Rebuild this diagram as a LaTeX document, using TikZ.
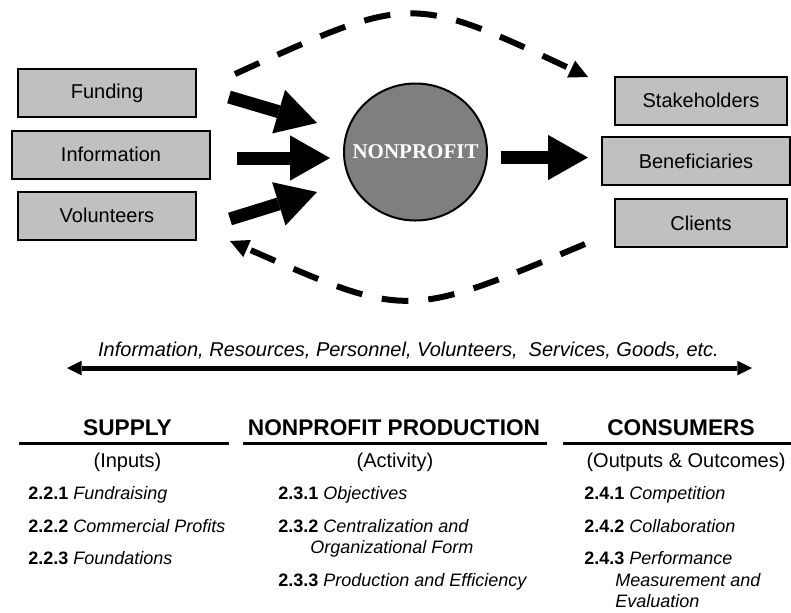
\documentclass[tikz,border=0pt]{standalone}
\usepackage{fontspec}
\setmainfont{Liberation Sans}
\newfontfamily\discfont{Liberation Serif}
\usetikzlibrary{arrows.meta,shapes.geometric}

\definecolor{boxgray}{HTML}{C0C0C0}
\definecolor{discgray}{HTML}{7F7F7F}

\tikzset{
  fieldbox/.style={draw=black, line width=1.5pt, fill=boxgray, minimum height=36pt,
    inner sep=0pt, font=\fontsize{15}{18}\selectfont},
  bigarrow/.style={line width=9.75pt,
    -{Triangle[length=30pt,width=34pt,line width=0pt]}},
  dasharrow/.style={line width=4.5pt, dash pattern=on 20pt off 15pt,
    -{Triangle[length=14pt,width=14pt,line width=0pt]}},
  colhead/.style={font=\bfseries\fontsize{17}{20}\selectfont, anchor=base, inner sep=0pt},
  colsub/.style={font=\fontsize{15}{18}\selectfont, anchor=base, inner sep=0pt},
  entry/.style={font=\fontsize{13.5}{16}\selectfont, anchor=base west, inner sep=0pt},
  headrule/.style={line width=2.25pt},
}

\begin{document}
\begin{tikzpicture}[x=0.75pt, y=-0.75pt]
\useasboundingbox (0,0) rectangle (791,612);

% inputs
\node[fieldbox, minimum width=133.5pt] (fund) at (107,93) {Funding};
\node[fieldbox, minimum width=148.5pt] (info) at (111,154.5) {Information};
\node[fieldbox, minimum width=133.5pt] (vol)  at (107,215.5) {Volunteers};

% outputs
\node[fieldbox, minimum width=129pt] (stake) at (701,100.5) {Stakeholders};
\node[fieldbox, minimum width=141pt] (bene)  at (696,161) {Beneficiaries};
\node[fieldbox, minimum width=129pt] (cli)   at (701,223) {Clients};

% the organisation
\node[ellipse, draw=black, line width=1.5pt, fill=discgray, inner sep=0pt,
  minimum width=107.25pt, minimum height=102.75pt] (np) at (415.5,152) {};
\node[text=white, font=\discfont\bfseries\fontsize{15.75}{18}\selectfont]
  (nplabel) at (np.center) {NONPROFIT};

% flows into and out of the organisation
\coordinate (fa) at (229,97);   \coordinate (fb) at (317,123);
\coordinate (ia) at (237,158);  \coordinate (ib) at (330,158);
\coordinate (va) at (230,219);  \coordinate (vb) at (317,192);
\coordinate (oa) at (501,157.5);\coordinate (ob) at (588,157.5);
\draw[bigarrow] (fa) -- (fb);
\draw[bigarrow] (ia) -- (ib);
\draw[bigarrow] (va) -- (vb);
\draw[bigarrow] (oa) -- (ob);

% feedback loops
\coordinate (ts) at (235,74);  \coordinate (tc) at (411,-6);  \coordinate (te) at (588,77);
\coordinate (bs) at (585,244); \coordinate (bc) at (407,319); \coordinate (be) at (230,241);
\draw[dasharrow] (ts) .. controls (tc) and (tc) .. (te);
\draw[dasharrow] (bs) .. controls (bc) and (bc) .. (be);

% exchange axis
\node[font=\itshape\fontsize{15}{18}\selectfont, anchor=base, inner sep=0pt] (flowtext)
  at (408.5,356) {Information, Resources, Personnel, Volunteers,\ \ Services, Goods, etc.};
\coordinate (la) at (67,368); \coordinate (lb) at (752,368);
\draw[line width=3.75pt,
  {Triangle[length=11pt,width=11pt,line width=0pt]}-{Triangle[length=11pt,width=11pt,line width=0pt]}]
  (la) -- (lb);

% column headings
\node[colhead] (hsup) at (127.5,435) {SUPPLY};
\node[colhead] (hpro) at (394,435) {NONPROFIT PRODUCTION};
\node[colhead] (hcon) at (681,435) {CONSUMERS};
\draw[headrule] (19,443) -- (229,443);
\draw[headrule] (243,443) -- (547,443);
\draw[headrule] (563,443) -- (791,443);
\node[colsub] (ssup) at (127.5,467) {(Inputs)};
\node[colsub] (spro) at (395,467) {(Activity)};
\node[colsub] (scon) at (686,467) {(Outputs \& Outcomes)};

% supply entries
\node[entry] (e221) at (28,499) {\textbf{2.2.1} \textit{Fundraising}};
\node[entry] (e222) at (28,532) {\textbf{2.2.2} \textit{Commercial Profits}};
\node[entry] (e223) at (28,564) {\textbf{2.2.3} \textit{Foundations}};

% production entries
\node[entry] (e231)  at (278,499) {\textbf{2.3.1} \textit{Objectives}};
\node[entry] (e232)  at (278,532) {\textbf{2.3.2} \textit{Centralization and}};
\node[entry] (e232b) at (310,553) {\textit{Organizational Form}};
\node[entry] (e233)  at (278,586) {\textbf{2.3.3} \textit{Production and Efficiency}};

% consumer entries
\node[entry] (e241)  at (584,499) {\textbf{2.4.1} \textit{Competition}};
\node[entry] (e242)  at (584,532) {\textbf{2.4.2} \textit{Collaboration}};
\node[entry] (e243)  at (584,564) {\textbf{2.4.3} \textit{Performance}};
\node[entry] (e243b) at (615,586) {\textit{Measurement and}};
\node[entry] (e243c) at (615,607) {\textit{Evaluation}};
\end{tikzpicture}
\end{document}
